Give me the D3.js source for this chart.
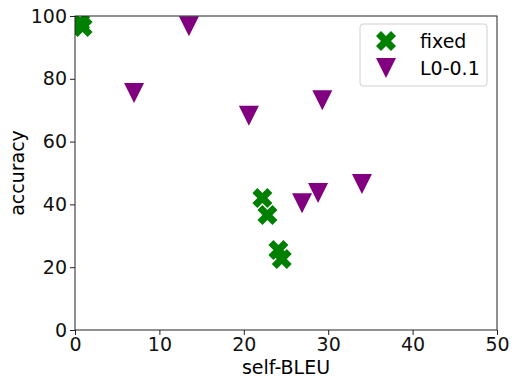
<!DOCTYPE html>
<html lang="en">
<head>
    <meta charset="UTF-8">
    <title>accuracy vs self-BLEU</title>
    <script src="https://d3js.org/d3.v7.min.js"></script>
    <style>
        body { margin: 0; background: white; overflow: hidden; }
        text { font-family: "DejaVu Sans", sans-serif; }
    </style>
</head>
<body>
    <script>
        // data
        var fixedX = [0.6, 0.9, 22.2, 22.8, 24.1, 24.5];
        var fixedY = [98, 96.5, 42, 36.6, 25.5, 22.6];
        var l0X = [13.5, 7.0, 20.6, 29.3, 34.0, 26.9, 28.8];
        var l0Y = [96.7, 75.5, 68.2, 73.2, 46.5, 40.4, 43.6];
        var xTicks = [0, 10, 20, 30, 40, 50];
        var yTicks = [0, 20, 40, 60, 80, 100];
        var seriesNames = ["fixed", "L0-0.1"];

        var width = 512, height = 379;
        var mLeft = 75, mRight = 497, mTop = 16, mBottom = 330;
        var fontSize = "19px";

        var svg = d3.select("body")
            .append("svg")
            .attr("width", width)
            .attr("height", height);

        var x = d3.scaleLinear().domain([0, 50]).range([mLeft, mRight]);
        var y = d3.scaleLinear().domain([0, 100]).range([mBottom, mTop]);

        svg.append("clipPath").attr("id", "clip")
            .append("rect")
            .attr("x", mLeft).attr("y", mTop)
            .attr("width", mRight - mLeft).attr("height", mBottom - mTop);

        // filled X marker (rotated plus, like matplotlib "X")
        var plus = [[-0.5,-1.5],[0.5,-1.5],[0.5,-0.5],[1.5,-0.5],[1.5,0.5],[0.5,0.5],
                    [0.5,1.5],[-0.5,1.5],[-0.5,0.5],[-1.5,0.5],[-1.5,-0.5],[-0.5,-0.5]];
        var k = 10 / Math.SQRT2;
        var xPath = "M" + plus.map(function(p){
            var a = Math.PI / 4;
            var px = p[0] * Math.cos(a) - p[1] * Math.sin(a);
            var py = p[0] * Math.sin(a) + p[1] * Math.cos(a);
            return (px * k).toFixed(2) + "," + (py * k).toFixed(2);
        }).join("L") + "Z";
        var triPath = "M0,10L-10,-10L10,-10Z";

        var plot = svg.append("g").attr("clip-path", "url(#clip)");

        var fixedData = d3.zip(fixedX, fixedY);
        var l0Data = d3.zip(l0X, l0Y);

        plot.selectAll(".fixed").data(fixedData).enter()
            .append("path")
            .attr("d", xPath)
            .attr("transform", function(d){ return "translate(" + x(d[0]) + "," + y(d[1]) + ")"; })
            .style("fill", "green");

        plot.selectAll(".l0").data(l0Data).enter()
            .append("path")
            .attr("d", triPath)
            .attr("transform", function(d){ return "translate(" + x(d[0]) + "," + y(d[1]) + ")"; })
            .style("fill", "purple");

        // axes
        var xAxis = svg.append("g")
            .attr("transform", "translate(0," + mBottom + ")")
            .call(d3.axisBottom(x).tickValues(xTicks).tickSize(5).tickPadding(3).tickFormat(d3.format("d")));
        var yAxis = svg.append("g")
            .attr("transform", "translate(" + mLeft + ",0)")
            .call(d3.axisLeft(y).tickValues(yTicks).tickSize(5).tickPadding(3).tickFormat(d3.format("d")));
        [xAxis, yAxis].forEach(function(ax){
            ax.select(".domain").remove();
            ax.selectAll("line").style("stroke", "#222").style("stroke-width", 1);
            ax.selectAll("text").style("font-size", fontSize).style("fill", "#111")
                .style("font-family", "DejaVu Sans");
        });

        svg.append("rect")
            .attr("x", mLeft).attr("y", mTop)
            .attr("width", mRight - mLeft).attr("height", mBottom - mTop)
            .style("fill", "none").style("stroke", "#222").style("stroke-width", 1);

        svg.append("text")
            .attr("x", (mLeft + mRight) / 2).attr("y", 374)
            .attr("text-anchor", "middle")
            .style("font-size", fontSize)
            .text("self-BLEU");
        svg.append("text")
            .attr("transform", "translate(24," + ((mTop + mBottom) / 2) + ") rotate(-90)")
            .attr("text-anchor", "middle")
            .style("font-size", fontSize)
            .text("accuracy");

        // legend
        var lg = svg.append("g");
        lg.append("rect")
            .attr("x", 360).attr("y", 24).attr("width", 127).attr("height", 62)
            .attr("rx", 3)
            .style("fill", "white").style("fill-opacity", 0.8)
            .style("stroke", "#d0d0d0");
        var paths = [xPath, triPath];
        var colors = ["green", "purple"];
        seriesNames.forEach(function(name, i){
            var cy = 41 + i * 27;
            lg.append("path")
                .attr("d", paths[i])
                .attr("transform", "translate(386," + cy + ")")
                .style("fill", colors[i]);
            lg.append("text")
                .attr("x", 420).attr("y", cy + 7)
                .style("font-size", fontSize)
                .text(name);
        });
    </script>
</body>
</html>
